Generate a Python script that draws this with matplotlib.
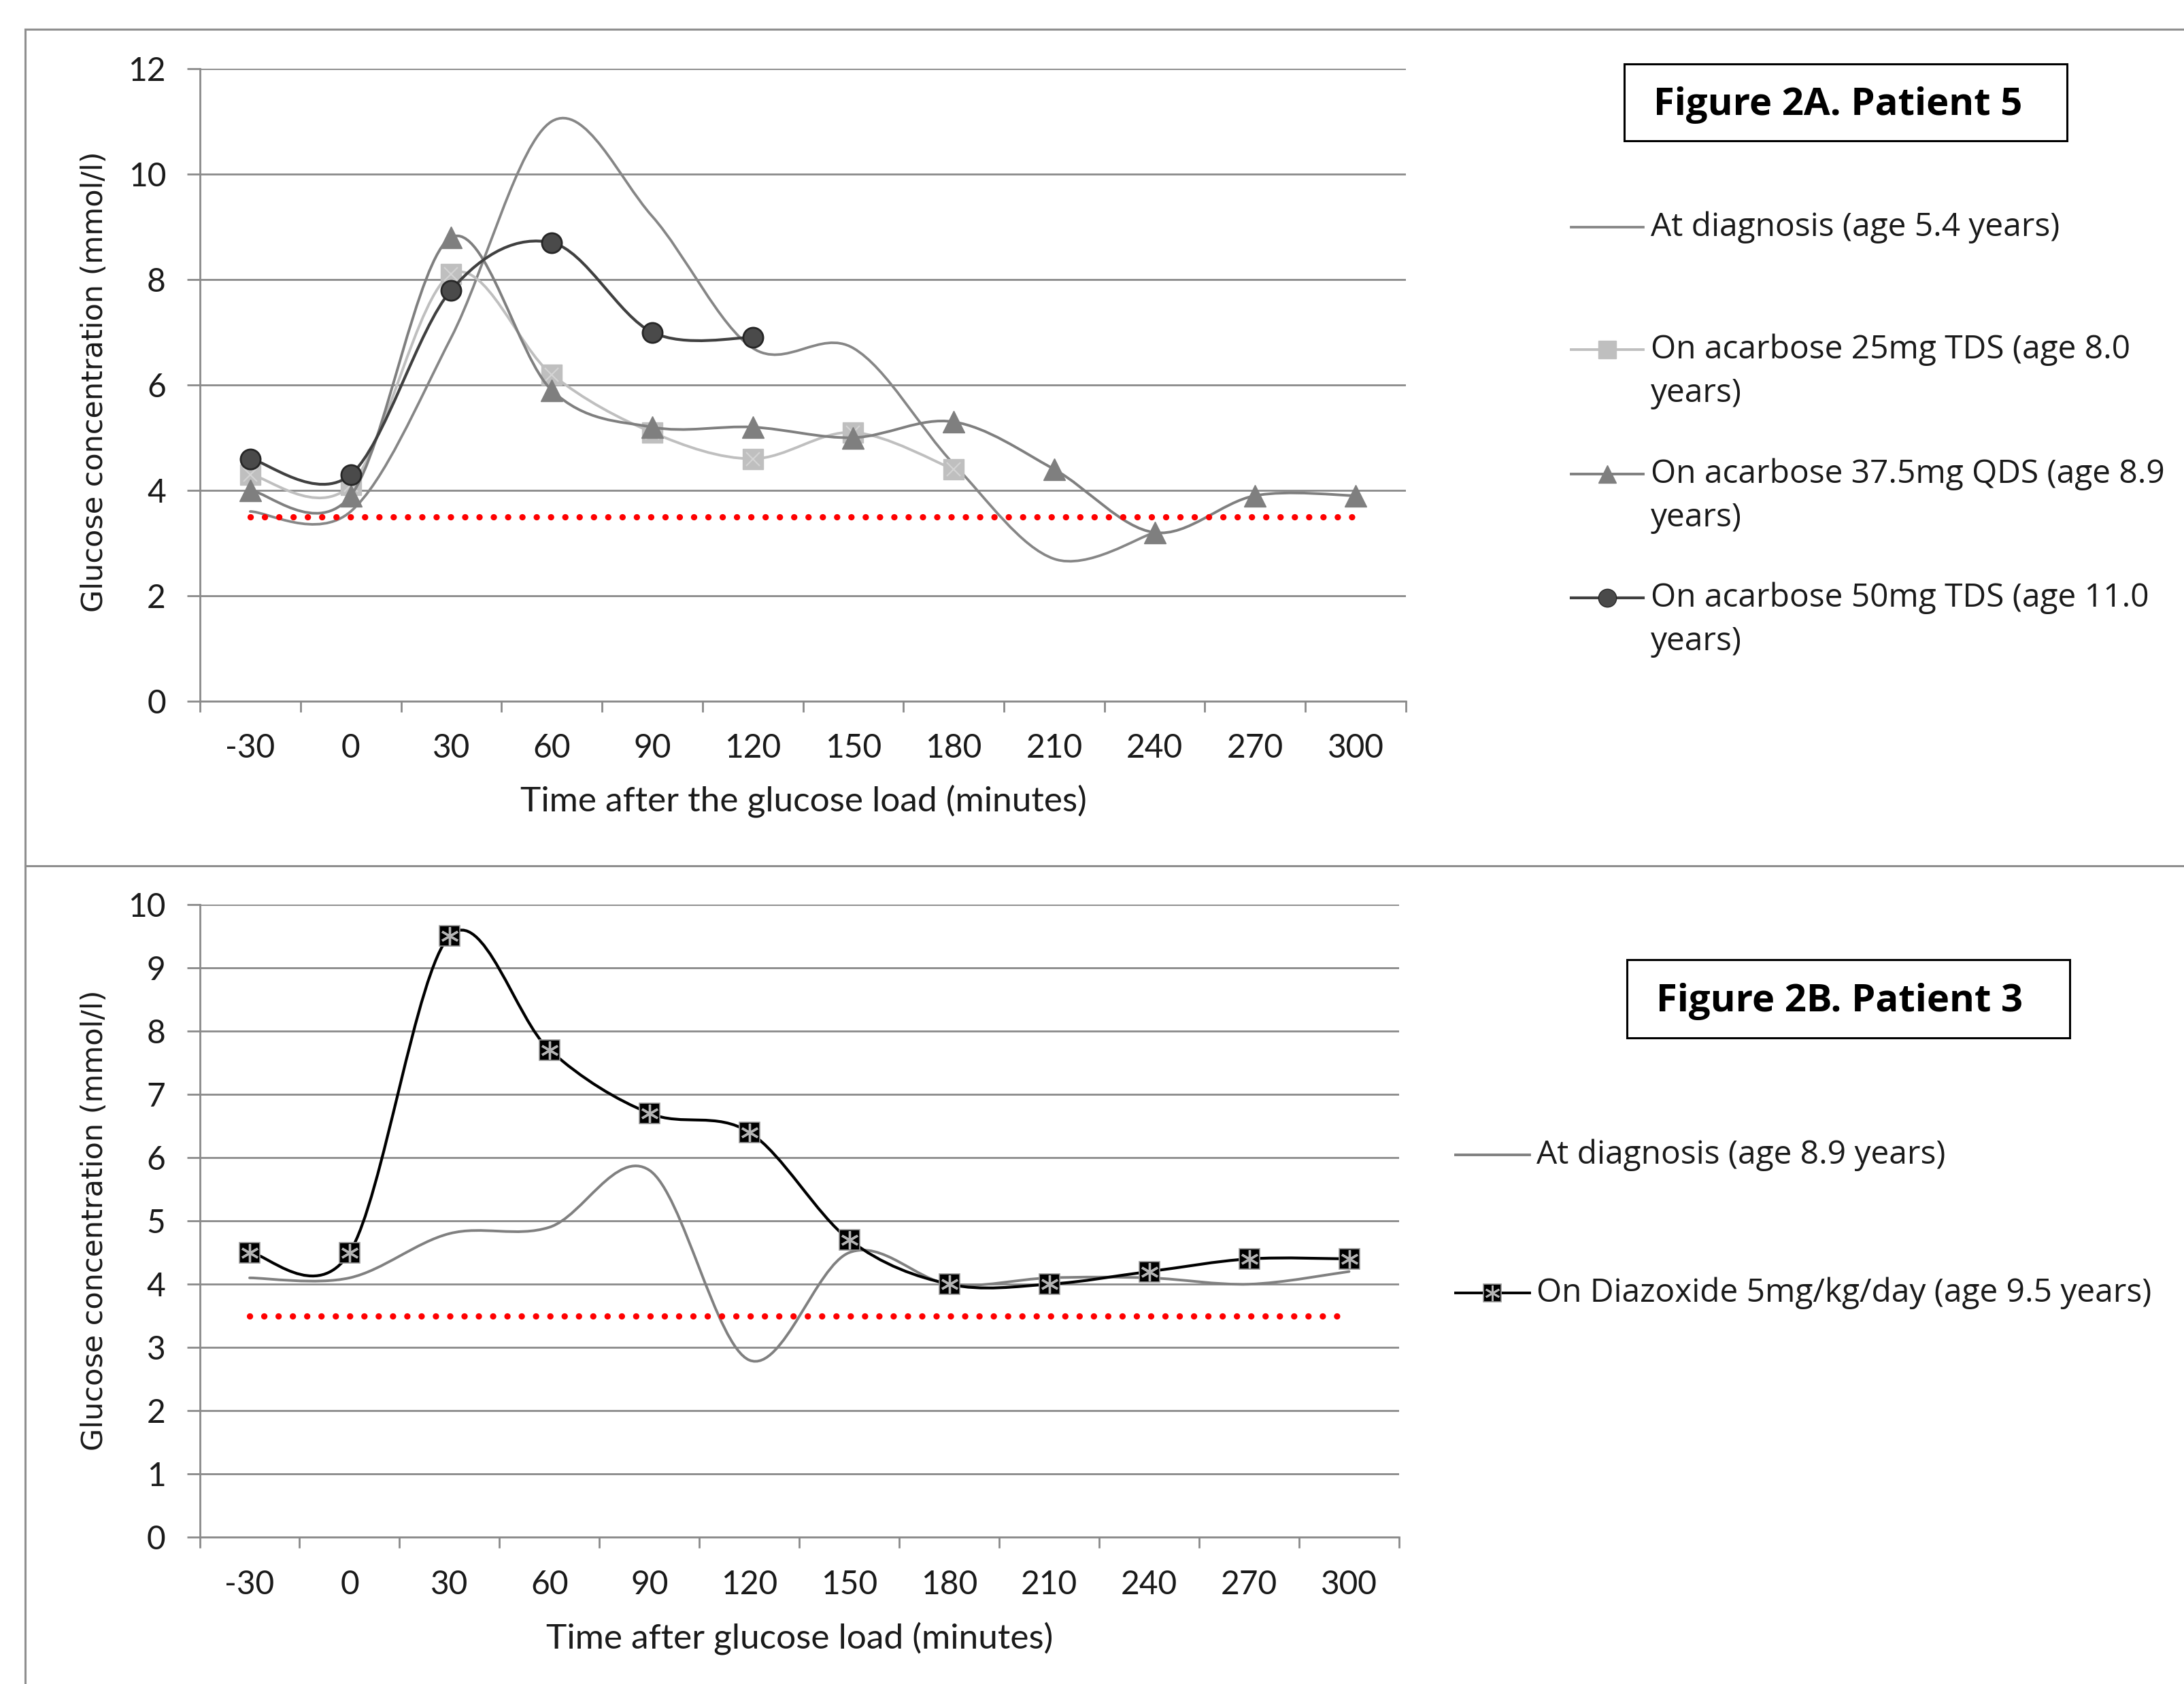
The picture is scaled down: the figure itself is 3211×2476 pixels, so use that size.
import matplotlib
matplotlib.use("Agg")
import matplotlib.pyplot as plt
import numpy as np
from matplotlib.path import Path
from matplotlib.patches import PathPatch, Rectangle
from matplotlib.lines import Line2D

plt.rcParams["axes.unicode_minus"] = False

# ---- data ----
times = [-30, 0, 30, 60, 90, 120, 150, 180, 210, 240, 270, 300]
hypo_level = 3.5

# Figure 2A, patient 5
p5_diagnosis = [3.6, 3.6, 6.9, 11.0, 9.2, 6.7, 6.7, 4.5, 2.7, 3.2]
p5_acarb_25 = [4.3, 4.1, 8.1, 6.2, 5.1, 4.6, 5.1, 4.4]
p5_acarb_375 = [4.0, 3.9, 8.8, 5.9, 5.2, 5.2, 5.0, 5.3, 4.4, 3.2, 3.9, 3.9]
p5_acarb_50 = [4.6, 4.3, 7.8, 8.7, 7.0, 6.9]

# Figure 2B, patient 3
p3_diagnosis = [4.1, 4.1, 4.8, 4.9, 5.8, 2.8, 4.5, 4.0, 4.1, 4.1, 4.0, 4.2]
p3_diazoxide = [4.5, 4.5, 9.5, 7.7, 6.7, 6.4, 4.7, 4.0, 4.0, 4.2, 4.4, 4.4]

labels_a = ["At diagnosis (age 5.4 years)",
            "On acarbose 25mg TDS (age 8.0\nyears)",
            "On acarbose 37.5mg QDS (age 8.9\nyears)",
            "On acarbose 50mg TDS (age 11.0\nyears)"]
labels_b = ["At diagnosis (age 8.9 years)",
            "On Diazoxide 5mg/kg/day (age 9.5 years)"]

W, H = 3212, 2476
GRID = "#8a8a8a"
TICK_FONT = "Lato"
LEG_FONT = "Open Sans"
TXT = "#1a1a1a"


def fx(px):
    return px / W


def fy(py):
    return 1 - py / H


def smooth_path(xs, ys, t=1 / 6):
    # Excel-style smoothed line: cubic bezier through every point
    pts = np.column_stack([xs, ys]).astype(float)
    n = len(pts)
    verts = [pts[0]]
    codes = [Path.MOVETO]
    for i in range(n - 1):
        p0 = pts[i - 1] if i > 0 else pts[i]
        p1, p2 = pts[i], pts[i + 1]
        p3 = pts[i + 2] if i + 2 < n else pts[i + 1]
        verts += [p1 + (p2 - p0) * t, p2 - (p3 - p1) * t, p2]
        codes += [Path.CURVE4] * 3
    return Path(verts, codes)


def smooth_line(ax, ys, color, lw, z):
    xs = times[:len(ys)]
    ax.add_patch(PathPatch(smooth_path(xs, ys), fill=False, edgecolor=color,
                           lw=lw, capstyle="round", joinstyle="round", zorder=z))


def style_axes(ax, ymax, ystep):
    ax.set_xlim(-45, 315)
    ax.set_ylim(0, ymax)
    ax.set_xticks(times)
    ax.set_xticks(np.arange(-45, 316, 30), minor=True)
    ax.set_yticks(list(range(0, ymax + 1, ystep)))
    ax.grid(axis="y", color=GRID, lw=2)
    ax.set_axisbelow(True)
    for s in ["top", "right"]:
        ax.spines[s].set_visible(False)
    for s in ["left", "bottom"]:
        ax.spines[s].set_color(GRID)
        ax.spines[s].set_linewidth(2)
    ax.tick_params(axis="x", which="major", length=0, pad=34, labelsize=34.5)
    ax.tick_params(axis="x", which="minor", length=11.5, width=2, color=GRID)
    ax.tick_params(axis="y", length=14, width=2, color=GRID, pad=22, labelsize=34.5)
    for lab in ax.get_xticklabels() + ax.get_yticklabels():
        lab.set_fontfamily(TICK_FONT)
        lab.set_color(TXT)


fig = plt.figure(figsize=(W / 100, H / 100), dpi=100)

# chart frames
for seg in [((37, 3212), (43, 43)), ((37, 37), (43, 2476)), ((37, 3212), (1273, 1273))]:
    fig.add_artist(Line2D([fx(seg[0][0]), fx(seg[0][1])], [fy(seg[1][0]), fy(seg[1][1])],
                          transform=fig.transFigure, color="#8f8f8f", lw=2.2))

# ---------------- Figure 2A ----------------
ax1 = fig.add_axes([fx(294), fy(1031), fx(2067 - 294), (1031 - 101) / H])
style_axes(ax1, 12, 2)

c_diag, c_25, c_375, c_50 = "#868686", "#bfbfbf", "#7f7f7f", "#404040"
smooth_line(ax1, p5_diagnosis, c_diag, 2.7, 2)
smooth_line(ax1, p5_acarb_25, c_25, 2.8, 3)
ax1.plot(times[:len(p5_acarb_25)], p5_acarb_25, ls="none", marker="s", ms=21,
         mfc=c_25, mec=c_25, zorder=3.1)
ax1.plot(times[:len(p5_acarb_25)], p5_acarb_25, ls="none", marker="x", ms=14,
         mec="#d4d4d4", mew=1.5, zorder=3.2)
smooth_line(ax1, p5_acarb_375, c_375, 2.8, 4)
ax1.plot(times[:len(p5_acarb_375)], p5_acarb_375, ls="none", marker="^", ms=23,
         mfc=c_375, mec=c_375, zorder=4.1)
smooth_line(ax1, p5_acarb_50, c_50, 3.0, 5)
ax1.plot(times[:len(p5_acarb_50)], p5_acarb_50, ls="none", marker="o", ms=21,
         mfc="#4a4a4a", mec="#262626", mew=2, zorder=5.1)
ax1.plot(times, [hypo_level] * len(times), color="#ff0000", lw=6.7,
         ls=(0, (0.01, 2.25)), dash_capstyle="round", zorder=6)

fig.text(fx(139), fy(561), "Glucose concentration (mmol/l)", rotation=90,
         ha="center", va="center", fontsize=31, family="DejaVu Sans", color=TXT)
fig.text(fx(1181), fy(1178), "Time after the glucose load (minutes)",
         ha="center", va="center", fontsize=37, family=TICK_FONT, color=TXT)

fig.add_artist(Rectangle((fx(2388), fy(207)), fx(3039 - 2388), (207 - 94) / H,
                         transform=fig.transFigure, fill=False, ec="black", lw=2.2))
fig.text(fx(2431), fy(155), "Figure 2A. Patient 5", ha="left", va="center",
         fontsize=40.5, fontweight="bold", family=LEG_FONT, color="black")

# legend A (drawn by hand to mimic the Excel layout)
leg_a_y = [334, 514, 697, 879]
leg_a_style = [(c_diag, 2.7, None, None, None),
               (c_25, 2.8, "s", c_25, c_25),
               (c_375, 2.8, "^", c_375, c_375),
               (c_50, 3.0, "o", "#4a4a4a", "#262626")]
for yy, lab, (col, lw, mk, mfc, mec) in zip(leg_a_y, labels_a, leg_a_style):
    fig.add_artist(Line2D([fx(2310), fx(2416)], [fy(yy), fy(yy)], transform=fig.transFigure,
                          color=col, lw=lw))
    if mk:
        fig.add_artist(Line2D([fx(2363)], [fy(yy)], transform=fig.transFigure, ls="none",
                              marker=mk, ms=19, mfc=mfc, mec=mec))
    for k, line in enumerate(lab.split("\n")):
        fig.text(fx(2427), fy(yy + 64 * k), line, ha="left", va="center",
                 fontsize=34.5, family=LEG_FONT, color=TXT)

# ---------------- Figure 2B ----------------
ax2 = fig.add_axes([fx(293.5), fy(2260.4), fx(2057 - 293.5), (2260.4 - 1329.8) / H])
style_axes(ax2, 10, 1)

smooth_line(ax2, p3_diagnosis, "#808080", 2.8, 2)
smooth_line(ax2, p3_diazoxide, "black", 3.0, 3)
ax2.plot(times, p3_diazoxide, ls="none", marker="s", ms=21, mfc="black",
         mec="#9a9a9a", mew=1.2, zorder=3.1)
ax2.plot(times, p3_diazoxide, ls="none", marker=(6, 2, 0), ms=19, mec="#b4b4b4",
         mew=2.4, zorder=3.2)
ax2.plot(times, [hypo_level] * len(times), color="#ff0000", lw=6.7,
         ls=(0, (0.01, 2.25)), dash_capstyle="round", zorder=4)

fig.text(fx(139), fy(1794), "Glucose concentration (mmol/l)", rotation=90,
         ha="center", va="center", fontsize=31, family="DejaVu Sans", color=TXT)
fig.text(fx(1176), fy(2409), "Time after glucose load (minutes)",
         ha="center", va="center", fontsize=37, family=TICK_FONT, color=TXT)

fig.add_artist(Rectangle((fx(2392), fy(1526)), fx(3043 - 2392), (1526 - 1411) / H,
                         transform=fig.transFigure, fill=False, ec="black", lw=2.2))
fig.text(fx(2435), fy(1472), "Figure 2B. Patient 3", ha="left", va="center",
         fontsize=40.5, fontweight="bold", family=LEG_FONT, color="black")

leg_b_y = [1698, 1901]
for i, (yy, lab) in enumerate(zip(leg_b_y, labels_b)):
    col = "#808080" if i == 0 else "black"
    fig.add_artist(Line2D([fx(2140), fx(2249)], [fy(yy), fy(yy)], transform=fig.transFigure,
                          color=col, lw=2.8))
    if i == 1:
        fig.add_artist(Line2D([fx(2194)], [fy(yy)], transform=fig.transFigure, ls="none",
                              marker="s", ms=19, mfc="black", mec="#9a9a9a", mew=1.2))
        fig.add_artist(Line2D([fx(2194)], [fy(yy)], transform=fig.transFigure, ls="none",
                              marker=(6, 2, 0), ms=16, mec="#b4b4b4", mew=2))
    fig.text(fx(2259), fy(yy), lab, ha="left", va="center",
             fontsize=34.5, family=LEG_FONT, color=TXT)

fig.savefig("out.png", dpi=100)
